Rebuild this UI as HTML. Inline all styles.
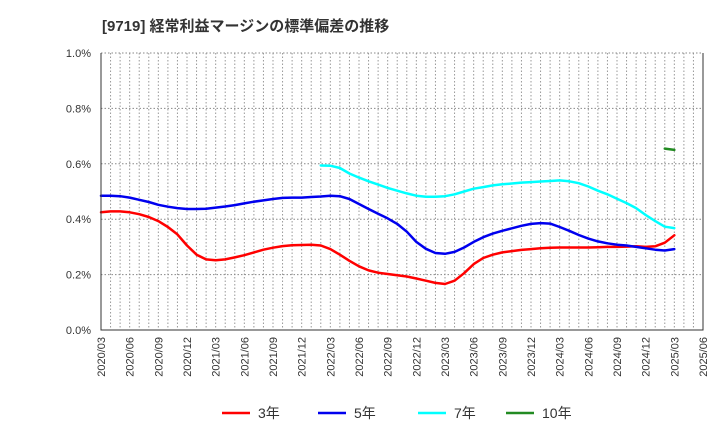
<!DOCTYPE html>
<html><head><meta charset="utf-8"><style>
body{margin:0;background:#fff;font-family:"Liberation Sans","Noto Sans CJK JP",sans-serif}
</style></head><body>
<svg id="c" width="720" height="440" xmlns="http://www.w3.org/2000/svg" style="font-family:'Liberation Sans','Noto Sans CJK JP',sans-serif">
<text x="102" y="31" font-size="15" font-weight="bold" fill="#333">[9719]  経常利益マージンの標準偏差の推移</text>
<g id="grid"></g><g id="series"></g><g id="axes"></g><g id="legend"></g>
</svg>
<script>
const xLabels=["2020/03","2020/06","2020/09","2020/12","2021/03","2021/06","2021/09","2021/12","2022/03","2022/06","2022/09","2022/12","2023/03","2023/06","2023/09","2023/12","2024/03","2024/06","2024/09","2024/12","2025/03","2025/06"];
const yTicks=[0,0.2,0.4,0.6,0.8,1.0];
const s3=[0.425,0.428,0.428,0.425,0.418,0.408,0.393,0.372,0.345,0.305,0.272,0.255,0.252,0.255,0.262,0.270,0.280,0.290,0.297,0.303,0.306,0.307,0.308,0.305,0.292,0.272,0.250,0.230,0.215,0.207,0.202,0.198,0.193,0.186,0.178,0.170,0.166,0.178,0.205,0.238,0.260,0.272,0.280,0.285,0.289,0.292,0.295,0.297,0.298,0.298,0.298,0.298,0.299,0.300,0.300,0.301,0.302,0.300,0.302,0.315,0.342];
const s5=[0.485,0.485,0.483,0.478,0.470,0.462,0.452,0.445,0.440,0.437,0.437,0.438,0.442,0.446,0.451,0.457,0.463,0.468,0.473,0.477,0.478,0.478,0.480,0.482,0.485,0.483,0.473,0.455,0.437,0.420,0.403,0.383,0.355,0.318,0.293,0.278,0.275,0.282,0.298,0.318,0.335,0.348,0.358,0.367,0.376,0.383,0.386,0.384,0.372,0.358,0.343,0.330,0.320,0.313,0.308,0.305,0.300,0.295,0.290,0.287,0.292];
const s7Start=23;
const s7=[0.594,0.593,0.585,0.565,0.550,0.537,0.525,0.513,0.503,0.493,0.485,0.481,0.481,0.483,0.490,0.500,0.510,0.516,0.522,0.526,0.529,0.532,0.534,0.536,0.538,0.540,0.537,0.530,0.518,0.503,0.490,0.474,0.458,0.440,0.415,0.393,0.373,0.368];
const s10Start=59;
const s10=[0.655,0.650];
const L=101,R=703,T=53,B=330,N=63;
const X=i=>L+(R-L)*i/N, Y=v=>B-(B-T)*v/1.0;
const NS="http://www.w3.org/2000/svg";
function mk(t,a,p){const e=document.createElementNS(NS,t);for(const k in a)e.setAttribute(k,a[k]);p.appendChild(e);return e;}
const g=document.getElementById('grid');
for(let i=1;i<N;i++){const l=mk('line',{x1:X(i),x2:X(i),y1:T,y2:B,stroke:'#999','stroke-dasharray':'1.5,2','stroke-width':1},g);

}
yTicks.forEach(v=>{if(v>0){const l=mk('line',{x1:L,x2:R,y1:Y(v),y2:Y(v),stroke:'#888','stroke-dasharray':'1.5,2','stroke-width':1},g);

}
const t=mk('text',{x:L-10,y:Y(v)+4,'font-size':11,fill:'#333','text-anchor':'end'},g);t.textContent=v.toFixed(1)+'%';

});
xLabels.forEach((s,i)=>{const x=X(i*3);const t=mk('text',{x:0,y:0,'font-size':11,fill:'#333','text-anchor':'end',transform:`translate(${x+4},337) rotate(-90)`},g);t.textContent=s;

});
const a=document.getElementById('axes');
const ax=mk('path',{d:`M${L},${T}V${B}H${R}V${T}`,fill:'none',stroke:'#333','stroke-width':1},a);


const sg=document.getElementById('series');
function line(arr,start,col,name){const p=arr.map((v,i)=>X(start+i).toFixed(1)+','+Y(v).toFixed(1)).join(' ');
const e=mk('polyline',{points:p,fill:'none',stroke:col,'stroke-width':2.5,'stroke-linejoin':'round','stroke-linecap':'round'},sg);

}
line(s3,0,'#ff0000','series-3y');line(s5,0,'#0000ee','series-5y');line(s7,s7Start,'#00ffff','series-7y');line(s10,s10Start,'#228b22','series-10y');
const lg=document.getElementById('legend');
[['3年','#ff0000',222],['5年','#0000ee',318],['7年','#00ffff',418],['10年','#228b22',506]].forEach(([t,c,x])=>{
const gg=mk('g',{},lg);


mk('line',{x1:x,x2:x+28,y1:413,y2:413,stroke:c,'stroke-width':2.5},gg);
const tx=mk('text',{x:x+36,y:418,'font-size':14,fill:'#333'},gg);tx.textContent=t;});
</script>
</body></html>
